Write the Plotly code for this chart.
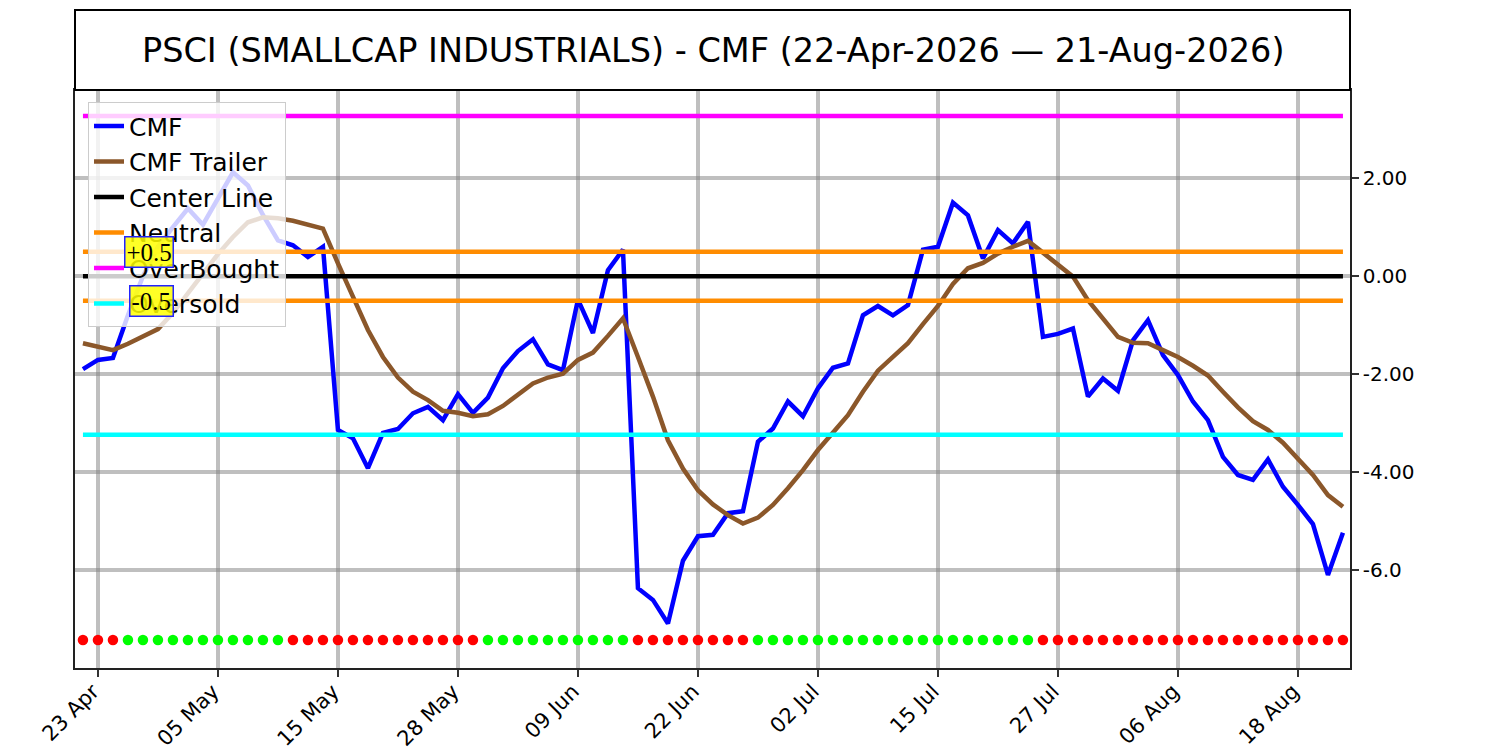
import pandas as pd
import plotly.graph_objects as go

# Trading days shown on the chart (NYSE holidays removed)
holidays = ['2026-05-25', '2026-06-19', '2026-07-03']
dates = pd.bdate_range('2026-04-22', '2026-08-21', freq='C', holidays=holidays)

cmf = [
    -1.90, -1.71, -1.67, -0.80, 0.00, 0.60, 1.00, 1.38, 1.05, 1.60,
    2.12, 1.85, 1.25, 0.73, 0.63, 0.39, 0.60, -3.14, -3.31, -3.92,
    -3.20, -3.12, -2.80, -2.67, -2.94, -2.41, -2.79, -2.48, -1.88, -1.53,
    -1.29, -1.80, -1.92, -0.48, -1.16, 0.12, 0.54, -6.37, -6.61, -7.09,
    -5.81, -5.31, -5.28, -4.84, -4.80, -3.38, -3.11, -2.56, -2.86, -2.29,
    -1.87, -1.78, -0.80, -0.61, -0.80, -0.59, 0.54, 0.60, 1.50, 1.24,
    0.36, 0.94, 0.67, 1.11, -1.24, -1.18, -1.07, -2.46, -2.09, -2.34,
    -1.31, -0.90, -1.61, -2.02, -2.56, -2.94, -3.69, -4.06, -4.16, -3.74,
    -4.30, -4.67, -5.06, -6.10, -5.24,
]

cmf_trailer = [
    -1.37, -1.44, -1.51, -1.38, -1.22, -1.08, -0.75, -0.35, 0.05, 0.45,
    0.80, 1.10, 1.20, 1.18, 1.13, 1.04, 0.97, 0.26, -0.42, -1.10,
    -1.65, -2.07, -2.36, -2.53, -2.75, -2.79, -2.86, -2.82, -2.65, -2.43,
    -2.19, -2.07, -1.99, -1.71, -1.56, -1.22, -0.86, -1.65, -2.46, -3.35,
    -3.93, -4.37, -4.66, -4.88, -5.05, -4.93, -4.67, -4.33, -3.96, -3.55,
    -3.18, -2.84, -2.36, -1.93, -1.65, -1.37, -0.98, -0.61, -0.16, 0.16,
    0.27, 0.46, 0.60, 0.72, 0.48, 0.22, -0.01, -0.49, -0.86, -1.24,
    -1.36, -1.37, -1.51, -1.65, -1.83, -2.03, -2.36, -2.68, -2.96, -3.14,
    -3.40, -3.72, -4.06, -4.47, -4.71,
]

# daily signal dots along the bottom: G = green, R = red
signal = list(
    'RRRGGGGGGGGGGGRRRRRRRRRRRRRGGGGGGGGGGRRRRRRRRGGGGGGGGGGGGGGGGGGG'
    'RRRRRRRRRRRRRRRRRRRRR'
)

center_line = 0.0
neutral_hi = 0.5
neutral_lo = -0.5
overbought = 3.27
oversold = -3.24
signal_level = -7.43

y_tickvals = [2, 0, -2, -4, -6]
y_ticktext = ['2.00', '0.00', '-2.00', '-4.00', '-6.0']

x = list(range(len(dates)))
tick_idx = x[1::8]
tick_text = [dates[i].strftime('%d %b') for i in tick_idx]
x_ends = [x[0], x[-1]]

sig_colors = ['#00ff00' if s == 'G' else '#ff0000' for s in signal]

fig = go.Figure()

fig.add_trace(go.Scatter(x=x, y=cmf, mode='lines', name='CMF', legendgroup='a',
                         line=dict(color='#0000ff', width=4.5)))
fig.add_trace(go.Scatter(x=x, y=cmf_trailer, mode='lines', name='CMF Trailer', legendgroup='b',
                         line=dict(color='#8b572a', width=4.5)))
fig.add_trace(go.Scatter(x=x_ends, y=[center_line] * 2, mode='lines', name='Center Line',
                         legendgroup='c', line=dict(color='#000000', width=4.5)))
fig.add_trace(go.Scatter(x=x_ends, y=[neutral_hi] * 2, mode='lines', name='Neutral',
                         legendgroup='d', line=dict(color='#ff8c00', width=4.5)))
fig.add_trace(go.Scatter(x=x_ends, y=[neutral_lo] * 2, mode='lines', name='Neutral',
                         legendgroup='d', showlegend=False, line=dict(color='#ff8c00', width=4.5)))
fig.add_trace(go.Scatter(x=x_ends, y=[overbought] * 2, mode='lines', name='OverBought',
                         legendgroup='e', line=dict(color='#ff00ff', width=4.5)))
fig.add_trace(go.Scatter(x=x_ends, y=[oversold] * 2, mode='lines', name='Oversold',
                         legendgroup='f', line=dict(color='#00ffff', width=4.5)))
fig.add_trace(go.Scatter(x=x, y=[signal_level] * len(x), mode='markers', showlegend=False,
                         marker=dict(color=sig_colors, size=10.5, line=dict(width=0))))

# title box above the plot
fig.add_shape(type='rect', xref='paper', yref='paper', x0=0, x1=1, y0=1, y1=1.1384,
              line=dict(color='black', width=2), fillcolor='white', layer='above')
fig.add_annotation(xref='paper', yref='paper', x=0.5, y=1.0692, showarrow=False,
                   xanchor='center', yanchor='middle',
                   text='PSCI (SMALLCAP INDUSTRIALS) - CMF (22-Apr-2026 \u2014 21-Aug-2026)',
                   font=dict(family='DejaVu Sans', size=33.5, color='black'))

for xv, yv, label in [(4.4, neutral_hi, '+0.5'), (4.6, neutral_lo, '-0.5')]:
    fig.add_annotation(x=xv, y=yv, text=label, showarrow=False,
                       xanchor='center', yanchor='middle',
                       font=dict(family='Liberation Serif', size=25, color='black'),
                       bgcolor='rgba(255,255,0,0.85)', bordercolor='#2222ff',
                       borderwidth=1.5, borderpad=1)

fig.update_layout(
    width=1500, height=750,
    margin=dict(l=67, r=158, t=82, b=90),
    paper_bgcolor='white', plot_bgcolor='white',
    font=dict(family='DejaVu Sans', color='black'),
    showlegend=True,
    legend=dict(x=0.0102, y=0.979, xanchor='left', yanchor='top',
                bgcolor='rgba(255,255,255,0.8)', bordercolor='#cccccc', borderwidth=1,
                font=dict(size=25), itemwidth=30, tracegroupgap=6,
                traceorder='normal'),
)

fig.update_xaxes(range=[-0.53, 84.47], tickvals=tick_idx, ticktext=tick_text,
                 tickangle=-45, tickfont=dict(size=21), automargin=False,
                 ticklabelshift=-5, ticklabelstandoff=-6,
                 showgrid=True, gridcolor='rgba(128,128,128,0.5)', gridwidth=4,
                 ticks='outside', ticklen=7, tickwidth=1.5, tickcolor='#333333',
                 showline=True, linecolor='#222222', linewidth=1.5, mirror=True,
                 zeroline=False)
fig.update_yaxes(range=[-8.0, 3.8], side='right', tickvals=y_tickvals, ticktext=y_ticktext,
                 tickfont=dict(size=20), automargin=False,
                 showgrid=True, gridcolor='rgba(128,128,128,0.5)', gridwidth=4,
                 ticks='outside', ticklen=7, tickwidth=1.5, tickcolor='#333333',
                 showline=True, linecolor='#222222', linewidth=1.5, mirror=True,
                 zeroline=False)

fig.write_html('out.html')
